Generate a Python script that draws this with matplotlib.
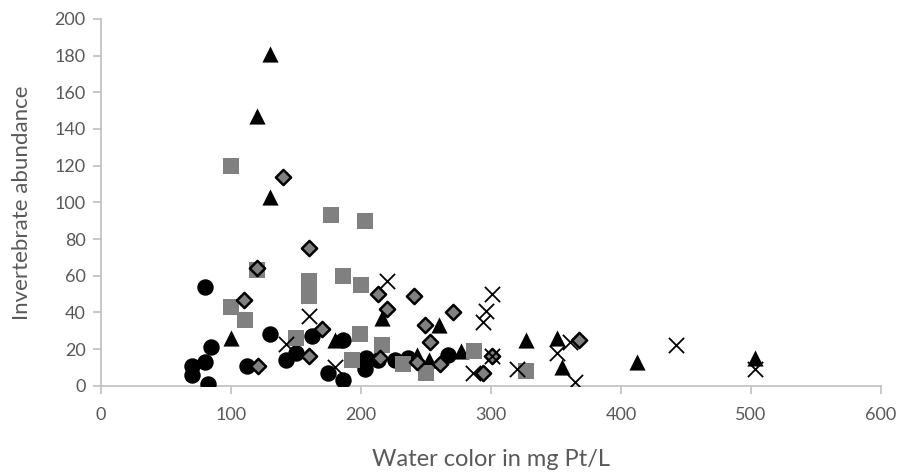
import matplotlib
matplotlib.use("Agg")
import matplotlib.pyplot as plt

# Series: black circles
circ_x = [70, 70, 80, 80, 82, 85, 112, 130, 142, 150, 162, 175, 186, 186, 203, 204, 213, 226, 236, 267]
circ_y = [11, 6, 13, 54, 1, 21, 11, 28, 14, 18, 27, 7, 3, 25, 9, 15, 14, 14, 15, 17]

# Series: black triangles
tri_x = [130, 120, 130, 100, 180, 216, 260, 243, 252, 277, 327, 351, 355, 412, 503]
tri_y = [181, 147, 103, 26, 25, 37, 33, 17, 14, 19, 25, 26, 10, 13, 15]

# Series: gray squares
sq_x = [100, 100, 111, 120, 150, 160, 160, 160, 177, 203, 186, 200, 199, 193, 216, 232, 250, 287, 327]
sq_y = [120, 43, 36, 63, 26, 57, 52, 49, 93, 90, 60, 55, 28, 14, 22, 12, 7, 19, 8]

# Series: gray diamonds
dia_x = [140, 160, 120, 110, 121, 160, 170, 213, 220, 241, 249, 271, 253, 215, 243, 261, 301, 294, 368]
dia_y = [114, 75, 64, 47, 11, 16, 31, 50, 42, 49, 33, 40, 24, 15, 13, 12, 16, 7, 25]

# Series: crosses
x_x = [220, 160, 142, 180, 301, 296, 294, 301, 286, 320, 351, 361, 365, 442, 503]
x_y = [57, 38, 23, 10, 50, 41, 35, 16, 7, 9, 18, 24, 2, 22, 9]

x_ticks = [0, 100, 200, 300, 400, 500, 600]
y_ticks = [0, 20, 40, 60, 80, 100, 120, 140, 160, 180, 200]

plt.rcParams['font.family'] = ['Lato', 'DejaVu Sans']

fig = plt.figure(figsize=(9.03, 4.74), dpi=100)
ax = fig.add_axes([0.1118, 0.1863, 0.8638, 0.7737])

ax.scatter(tri_x, tri_y, marker='^', s=135, c='black', linewidths=0, zorder=2)
ax.scatter(circ_x, circ_y, marker='o', s=140, c='black', linewidths=0, zorder=3)
ax.scatter(sq_x, sq_y, marker='s', s=135, c='#808080', linewidths=0, zorder=4)
ax.scatter(dia_x, dia_y, marker='D', s=60, c='#808080', edgecolors='black', linewidths=1.8, zorder=5)
ax.scatter(x_x, x_y, marker='x', s=120, c='black', linewidths=1.3, zorder=6)

ax.set_xlim(0, 600)
ax.set_ylim(0, 200)
ax.set_xticks(x_ticks)
ax.set_yticks(y_ticks)

for s in ['top', 'right']:
    ax.spines[s].set_visible(False)
for s in ['left', 'bottom']:
    ax.spines[s].set_color('#bfbfbf')
    ax.spines[s].set_linewidth(1.2)
ax.tick_params(axis='both', colors='#bfbfbf', labelcolor='#595959', labelsize=13,
               direction='out', length=6, width=1.2)
ax.tick_params(axis='x', pad=9)
ax.tick_params(axis='y', pad=5)
ax.set_xlabel('Water color in mg Pt/L', fontsize=17, color='#595959', labelpad=19)
ax.set_ylabel('Invertebrate abundance', fontsize=16, color='#595959', labelpad=16)

fig.savefig('out.png', dpi=100)
